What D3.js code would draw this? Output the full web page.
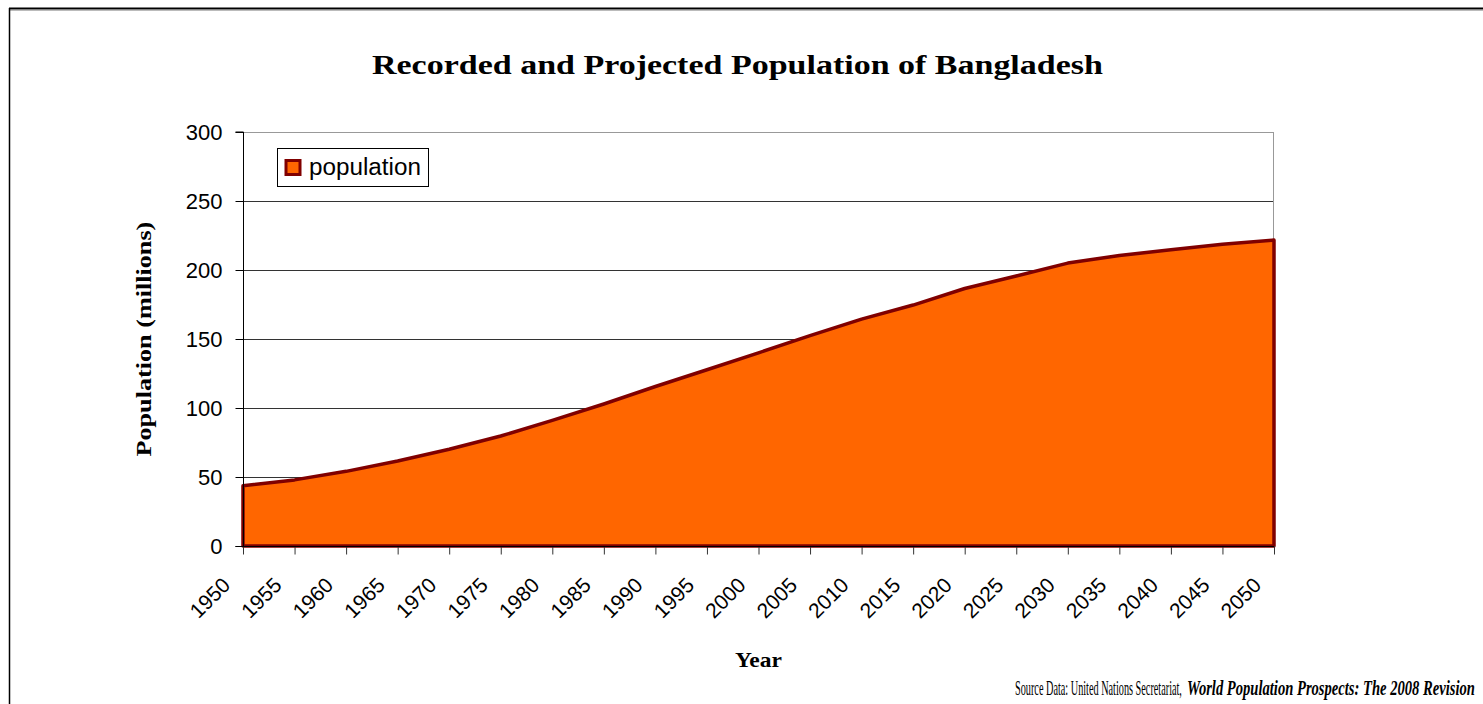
<!DOCTYPE html>
<html><head><meta charset="utf-8">
<script src="https://cdn.jsdelivr.net/npm/d3@7"></script>
<style>body{margin:0;background:#fff;} svg{display:block;}</style>
</head><body>
<svg id="c" width="1483" height="704"></svg>
<script>
const years = [1950,1955,1960,1965,1970,1975,1980,1985,1990,1995,2000,2005,2010,2015,2020,2025,2030,2035,2040,2045,2050];
const population = [43.6,47.9,54.1,61.6,70.1,79.7,91.0,102.9,115.6,127.7,140.0,152.4,164.4,174.6,186.6,195.7,205.0,210.5,214.6,218.6,221.7];
const yTicks = [0,50,100,150,200,250,300];
const title = "Recorded and Projected Population of Bangladesh";
const yTitle = "Population (millions)";
const xTitle = "Year";
const seriesName = "population";
const sourceA = "Source Data:  United Nations Secretariat,";
const sourceB = "World Population Prospects: The 2008 Revision";

const svg = d3.select("#c");
const L = 243, R = 1274, T = 132, B = 546;
const x = d3.scaleLinear().domain([1950,2050]).range([L,R]);
const y = d3.scaleLinear().domain([0,300]).range([B,T]);
const serif = "Liberation Serif, serif";
const sans = "Liberation Sans, Arial, sans-serif";

// outer frame
svg.append("line").attr("x1",9).attr("x2",1483).attr("y1",8.5).attr("y2",8.5).attr("stroke","#000").attr("stroke-width",2);
svg.append("line").attr("x1",10).attr("x2",1483).attr("y1",10.5).attr("y2",10.5).attr("stroke","#bbb").attr("stroke-width",1);
svg.append("line").attr("x1",9.5).attr("x2",9.5).attr("y1",8).attr("y2",704).attr("stroke","#000").attr("stroke-width",1.5);

// helper: draw text scaled horizontally to a given width via transform
function fitText(tx, ty, w, str, attrs, rot) {
  const g = svg.append("g");
  const t = g.append("text").attr("x",0).attr("y",0).text(str);
  Object.entries(attrs).forEach(([k,v])=>t.attr(k,v));
  const nat = t.node().getComputedTextLength();
  g.attr("transform",`translate(${tx},${ty}) rotate(${rot||0}) scale(${w/nat},1)`);
  return t;
}

// title
fitText(372, 74, 731, title, {"font-family":serif,"font-weight":"bold","font-size":27});

// gridlines
svg.append("g").selectAll("line").data(yTicks.filter(d=>d>0 && d<300)).join("line")
  .attr("x1",L).attr("x2",R).attr("y1",d=>Math.round(y(d))+0.5).attr("y2",d=>Math.round(y(d))+0.5)
  .attr("stroke","#333").attr("stroke-width",1);
// top & right plot border
svg.append("line").attr("x1",L).attr("x2",R).attr("y1",T+0.5).attr("y2",T+0.5).attr("stroke","#999");
svg.append("line").attr("x1",R-0.5).attr("x2",R-0.5).attr("y1",T).attr("y2",B).attr("stroke","#999");

// area
const area = d3.area().x((d,i)=>x(years[i])).y0(y(0)).y1(d=>y(d));
const outline = "M"+x(years[0])+","+y(0)+"L"+population.map((d,i)=>x(years[i])+","+y(d)).join("L")+"L"+x(years[years.length-1])+","+y(0)+"Z";
svg.append("path").datum(population).attr("d",area).attr("fill","#ff6600");
svg.append("path").attr("d",outline).attr("fill","none").attr("stroke","#800000").attr("stroke-width",3.5).attr("stroke-linejoin","round");

// axes
const yAxis = d3.axisLeft(y).tickValues(yTicks).tickSize(8).tickPadding(13);
const gy = svg.append("g").attr("transform",`translate(${L+0.5},0)`).call(yAxis);
gy.select(".domain").attr("stroke","#000").attr("d",`M-8,${B+0.5}H0V${T}H-8`);
gy.selectAll(".tick line").attr("stroke","#000");
gy.selectAll("text").attr("font-family",sans).attr("font-size",22).attr("fill","#000").attr("dy","0.35em");

const xAxis = d3.axisBottom(x).tickValues(years).tickFormat(d3.format("d")).tickSize(8);
const gx = svg.append("g").attr("transform",`translate(0,${B+0.5})`).call(xAxis);
gx.select(".domain").remove();
gx.selectAll(".tick line").attr("stroke","#333");
gx.selectAll("text").attr("font-family",sans).attr("font-size",21).attr("fill","#000")
  .attr("text-anchor","end").attr("x",0).attr("y",0).attr("dy",0).attr("transform","translate(-12,40) rotate(-45)");
svg.append("line").attr("x1",L).attr("x2",R).attr("y1",B+0.5).attr("y2",B+0.5).attr("stroke","#000").attr("stroke-width",1);

// axis titles
fitText(151, (T+B)/2 + 117.5, 235, yTitle, {"font-family":serif,"font-weight":"bold","font-size":21}, -90);
fitText(735, 667, 47, xTitle, {"font-family":serif,"font-weight":"bold","font-size":22});

// legend
const lg = svg.append("g");
lg.append("rect").attr("x",277.5).attr("y",148.5).attr("width",151).attr("height",38).attr("fill","#fff").attr("stroke","#000");
lg.append("rect").attr("x",286).attr("y",160.5).attr("width",14).attr("height",14).attr("fill","#ff6600").attr("stroke","#800000").attr("stroke-width",3);
lg.append("text").attr("x",309).attr("y",175).attr("font-family",sans).attr("font-size",23)
  .attr("textLength",112).attr("lengthAdjust","spacingAndGlyphs").text(seriesName);

// source
fitText(1015, 695, 167, sourceA, {"font-family":serif,"font-size":21,"fill":"#000"});
fitText(1187, 695, 288, sourceB, {"font-family":serif,"font-style":"italic","font-weight":"bold","font-size":20,"fill":"#000"});
</script>
</body></html>
